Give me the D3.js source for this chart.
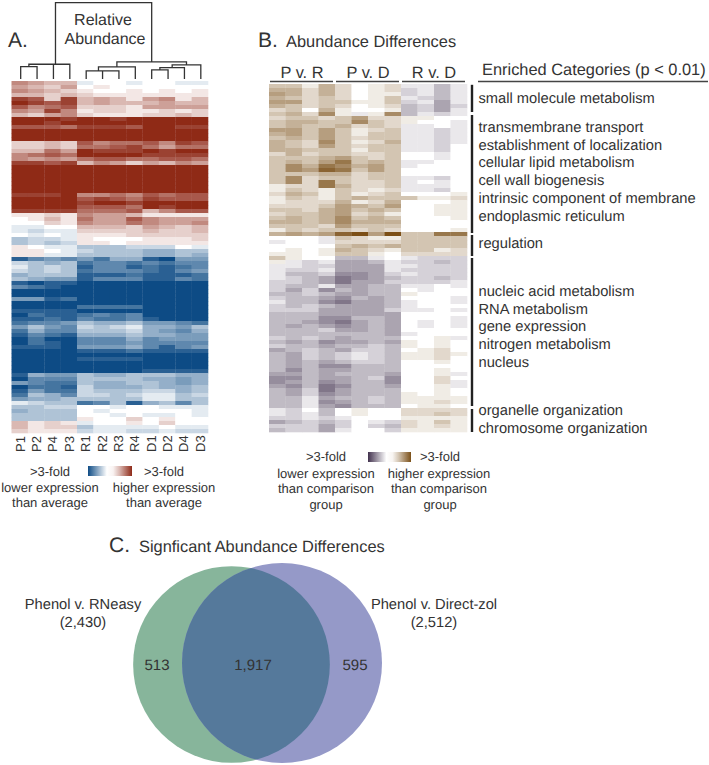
<!DOCTYPE html>
<html>
<head>
<meta charset="utf-8">
<title>Abundance heatmaps</title>
<script src="https://cdn.jsdelivr.net/npm/d3@7/dist/d3.min.js"></script>
<style>
  html, body { margin: 0; padding: 0; background: #fff; }
  svg { display: block; }
  text { font-family: "Liberation Sans", Arial, sans-serif; fill: #333; text-rendering: geometricPrecision; }
</style>
</head>
<body>
<svg id="chart" width="709" height="765"></svg>
<script>
// Panel A columns, in dendrogram order
const samples = ["P1","P2","P4","P3","R1","R2","R3","R4","D1","D2","D4","D3"];

// Panel A dendrogram: merge height of each node, leaves are sample names
const sampleTree = { h: 76, children: [
  { h: 14.7, children: [
    { h: 14.7, children: [ { h: 12.3, children: [{ name: "P1" }, { name: "P2" }] }, { name: "P4" } ] },
    { name: "P3" } ] },
  { h: 17, children: [
    { h: 12, children: [
      { h: 8, children: [{ name: "R1" }, { h: 8, children: [{ name: "R2" }, { name: "R3" }] }] },
      { name: "R4" } ] },
    { h: 14, children: [
      { h: 11.3, children: [ { h: 9, children: [{ name: "D1" }, { name: "D2" }] }, { name: "D4" } ] },
      { name: "D3" } ] } ] }
] };

// Panel A relative abundance, -9 = >3-fold lower, 9 = >3-fold higher
const abundance = [
  [5,4,3,3,-1,0,0,-1,0,0,-1,-1],
  [4,3,2,4,0,1,0,0,0,0,0,0],
  [5,4,3,2,1,0,0,1,0,1,0,1],
  [3,3,2,3,2,1,1,1,1,1,1,1],
  [8,7,2,8,3,4,3,1,4,5,1,3],
  [9,8,7,8,3,4,3,3,3,4,3,3],
  [7,5,6,7,2,2,2,1,4,4,4,4],
  [5,4,8,5,1,2,2,1,1,2,1,2],
  [3,2,4,5,2,1,1,1,2,2,3,2],
  [9,9,9,8,9,9,8,9,9,9,9,9],
  [9,9,8,9,9,9,9,9,9,9,9,9],
  [7,7,7,6,8,8,8,7,9,9,8,8],
  [9,9,9,9,9,9,9,9,9,9,9,9],
  [9,9,9,9,9,9,9,9,9,9,9,9],
  [9,9,9,9,9,9,9,9,9,9,9,9],
  [2,2,3,2,7,5,6,6,7,5,8,7],
  [2,2,3,2,6,6,7,8,6,4,6,6],
  [3,3,6,4,9,8,8,8,9,8,9,9],
  [5,6,7,6,9,9,9,9,8,8,8,8],
  [5,4,5,4,6,7,7,6,6,7,7,6],
  [8,8,7,8,3,5,4,2,4,3,5,4],
  [9,9,9,9,9,9,9,9,9,9,9,9],
  [9,9,9,9,9,9,9,9,9,9,9,9],
  [9,9,9,9,9,9,9,9,9,9,9,9],
  [9,9,9,9,9,9,9,9,9,9,9,9],
  [9,9,9,9,9,9,9,9,9,9,9,9],
  [9,9,9,9,9,9,9,9,9,9,9,9],
  [9,9,9,9,9,9,9,9,9,9,9,9],
  [8,8,8,9,5,5,6,5,7,6,7,7],
  [9,9,9,9,7,8,7,6,8,7,7,7],
  [9,9,9,9,8,9,9,8,9,9,9,9],
  [9,9,9,9,7,7,7,6,9,8,9,9],
  [8,8,8,8,6,6,6,7,3,5,7,7],
  [1,1,2,1,5,4,4,3,1,1,1,1],
  [0,1,3,1,6,4,4,7,5,4,4,4],
  [0,0,2,1,5,4,4,6,5,4,4,5],
  [-1,-1,0,0,3,3,3,2,4,3,2,3],
  [-1,-2,-1,-1,2,2,2,2,3,2,2,3],
  [0,-1,0,-1,1,1,1,2,2,2,2,2],
  [-3,-2,-2,-1,1,0,0,0,1,1,1,2],
  [-3,-2,-3,-2,1,1,0,1,1,1,1,1],
  [1,0,-1,-1,-3,-3,-3,-2,-2,-2,0,-1],
  [1,1,0,-1,-2,-3,-3,-3,-4,-4,-3,-3],
  [1,1,-1,-1,-3,-3,-3,-3,-4,-4,-3,-4],
  [-8,-6,-5,-6,-5,-7,-4,-4,-8,-9,-5,-5],
  [-2,-3,-4,-3,-7,-6,-6,-7,-6,-7,-6,-6],
  [-1,-3,-2,-3,-8,-6,-6,-8,-7,-8,-7,-6],
  [-2,-3,-2,-3,-7,-6,-6,-6,-7,-8,-6,-5],
  [-4,-3,-3,-3,-8,-8,-8,-7,-8,-8,-8,-7],
  [-3,-4,-5,-5,-8,-6,-6,-6,-8,-8,-6,-7],
  [-8,-9,-8,-8,-9,-9,-9,-9,-9,-9,-9,-9],
  [-6,-7,-8,-9,-9,-9,-9,-9,-9,-9,-9,-9],
  [-9,-9,-9,-9,-9,-9,-9,-9,-9,-9,-9,-9],
  [-9,-9,-9,-9,-9,-9,-9,-9,-9,-9,-9,-9],
  [-5,-5,-8,-7,-9,-9,-9,-9,-9,-9,-9,-9],
  [-9,-9,-9,-9,-9,-9,-9,-9,-9,-9,-9,-9],
  [-9,-9,-9,-9,-7,-7,-7,-7,-9,-9,-9,-9],
  [-8,-8,-8,-8,-9,-9,-9,-9,-9,-9,-9,-9],
  [-9,-7,-8,-8,-7,-6,-7,-6,-9,-9,-9,-9],
  [-8,-8,-7,-8,-6,-7,-7,-6,-8,-9,-9,-9],
  [-7,-6,-6,-5,-3,-4,-4,-3,-5,-5,-6,-7],
  [-5,-3,-5,-6,-2,-3,-2,-1,-4,-4,-5,-3],
  [-7,-4,-6,-6,-3,-3,-3,-2,-4,-5,-6,-4],
  [-8,-6,-7,-8,-4,-4,-4,-3,-4,-4,-5,-5],
  [-9,-7,-9,-9,-6,-6,-6,-4,-6,-5,-5,-5],
  [-9,-7,-8,-9,-6,-6,-6,-5,-6,-6,-6,-6],
  [-8,-8,-8,-9,-5,-5,-5,-4,-6,-8,-6,-5],
  [-9,-9,-9,-9,-8,-8,-8,-7,-8,-8,-8,-8],
  [-9,-9,-9,-9,-9,-9,-9,-9,-9,-9,-9,-9],
  [-9,-9,-9,-9,-8,-8,-8,-8,-9,-9,-9,-9],
  [-9,-9,-9,-9,-9,-9,-9,-9,-9,-9,-9,-9],
  [-9,-9,-9,-9,-9,-9,-9,-9,-9,-9,-9,-9],
  [-9,-9,-9,-9,-9,-9,-9,-9,-8,-8,-8,-8],
  [-8,-4,-5,-5,-3,-4,-4,-3,-3,-3,-4,-4],
  [-9,-6,-6,-6,-3,-3,-3,-3,-4,-4,-5,-4],
  [-5,-6,-7,-7,-3,-4,-4,-3,-3,-4,-5,-4],
  [-9,-7,-7,-8,-2,-4,-4,-4,-3,-4,-4,-3],
  [-8,-5,-7,-7,-2,-3,-3,-3,-2,-2,-4,-3],
  [-7,-3,-4,-6,-2,-2,-3,-2,-1,-1,-3,-2],
  [-5,-4,-4,-3,-3,-3,-3,-3,-1,-1,-3,-3],
  [-1,-2,-3,-3,-7,-6,-3,-8,-4,-3,-6,-3],
  [-3,-3,-2,-2,0,0,-1,0,0,-1,-1,-1],
  [-4,-3,-3,-3,0,-1,0,0,0,0,0,-1],
  [-3,-3,-3,-3,0,0,-1,0,-1,-1,0,-1],
  [-3,-3,-3,-3,1,0,0,2,0,1,0,0],
  [3,1,2,1,-1,0,0,1,0,2,0,0],
  [3,1,2,2,-3,-1,-1,-1,-1,0,-1,-1],
  [2,1,1,1,-2,-1,-1,-2,-2,-1,-2,-2]
];

// Panel B comparison groups, four replicate columns each
const comparisons = ["P v. R","P v. D","R v. D"];

// Panel B abundance differences, -9 = >3-fold lower, 9 = >3-fold higher
const differences = [
  [3,3,1,4,2,0,1,2,-1,-1,-3,-1],
  [4,4,2,4,2,0,1,2,-2,-1,-3,-1],
  [5,4,2,4,2,0,1,1,-2,-1,-3,-1],
  [4,3,2,3,2,0,1,3,-1,-2,-3,-1],
  [5,5,2,3,3,1,1,3,-2,-1,-4,-1],
  [4,3,2,3,2,0,1,2,-3,-2,-4,-2],
  [2,3,0,4,1,0,0,1,-3,-2,-4,-1],
  [3,4,2,6,1,-1,1,6,-3,-1,-2,-1],
  [2,3,3,2,3,5,2,2,1,1,0,0],
  [3,4,4,3,3,6,3,2,1,0,0,-1],
  [3,4,3,3,4,2,3,2,-1,-1,0,-1],
  [5,5,3,5,3,1,2,3,-1,-1,-2,-1],
  [4,5,3,5,3,1,3,3,-1,-1,-2,-1],
  [3,4,3,5,3,2,3,3,-1,-1,-2,-1],
  [4,3,2,6,3,1,2,4,-1,-1,-2,-1],
  [4,3,2,5,3,2,3,3,-1,-1,-2,0],
  [4,4,3,3,3,1,3,3,-1,-1,-2,0],
  [2,4,2,3,3,2,2,3,0,0,-1,0],
  [3,3,3,4,5,3,2,3,0,0,-1,0],
  [3,4,3,5,7,3,4,3,-1,-1,0,0],
  [3,6,4,7,6,4,5,3,-1,0,0,0],
  [3,6,5,8,7,3,5,3,0,0,0,0],
  [3,3,3,4,4,2,3,3,0,0,0,0],
  [3,6,2,3,3,2,3,3,-1,-1,-2,0],
  [3,6,2,7,3,2,2,3,-1,0,-1,0],
  [1,2,2,7,4,2,2,3,-1,-1,-1,0],
  [1,3,2,1,3,2,1,2,-1,-1,-2,0],
  [2,4,3,1,3,1,2,3,0,0,0,1],
  [1,3,2,1,3,4,3,3,3,1,1,2],
  [1,2,2,2,4,1,2,4,0,0,0,1],
  [2,2,2,3,5,4,3,5,0,0,1,1],
  [3,3,2,4,5,3,4,3,0,0,1,1],
  [2,3,3,4,5,2,3,1,0,0,1,1],
  [3,4,3,4,6,3,4,3,0,0,0,1],
  [4,4,3,4,6,4,4,4,0,0,0,0],
  [3,3,3,2,5,3,3,3,0,0,0,0],
  [1,3,2,3,3,2,3,2,0,0,0,1],
  [4,5,4,5,8,9,5,9,3,3,7,7],
  [0,0,0,-1,3,2,1,1,3,3,3,3],
  [-1,0,0,-1,2,2,2,2,3,3,3,3],
  [0,0,0,0,3,4,3,4,3,3,3,3],
  [0,1,0,1,4,3,2,1,3,3,1,2],
  [1,1,0,1,3,3,1,0,2,2,2,2],
  [3,1,0,0,-3,-3,-1,0,-1,-2,-2,-2],
  [1,-1,-2,-1,-4,-4,-3,-1,-2,-2,-3,-2],
  [-1,-1,-2,-2,-4,-4,-4,-1,-1,-2,-2,-2],
  [-1,-2,-2,-1,-4,-4,-4,-1,-2,-2,-2,-2],
  [-1,-3,-3,-2,-5,-5,-4,-2,-1,-2,-2,-2],
  [-1,-2,-3,-4,-6,-5,-4,-3,-2,-2,-3,-2],
  [-2,-2,-3,-4,-6,-4,-4,-2,-2,-2,-2,-1],
  [-2,-3,-3,-1,-4,-4,-3,-3,-1,-1,0,-1],
  [-2,-4,-2,-5,-3,-4,-3,-3,0,-1,0,0],
  [-3,-3,-2,-3,-4,-4,-3,-3,1,0,0,0],
  [-2,-3,-3,-4,-5,-3,-4,-3,0,0,0,-1],
  [-1,-3,-3,-5,-6,-4,-4,-3,-1,0,0,-1],
  [-2,-3,-2,-3,-4,-4,-4,-3,-1,0,0,0],
  [-2,-2,-2,-4,-4,-4,-4,-2,-1,-1,0,-1],
  [-3,-3,-3,-4,-4,-4,-4,-4,0,0,0,0],
  [-3,-3,-3,-5,-5,-3,-3,-4,0,0,0,-1],
  [-3,-3,-4,-5,-6,-4,-3,-4,0,-1,0,-1],
  [-3,-4,-3,-4,-5,-4,-3,-4,0,-1,0,-1],
  [-3,-3,-3,-2,-4,-4,-3,-4,0,0,0,0],
  [-3,-3,-3,-3,-3,-3,-3,-4,-1,0,0,0],
  [-2,-3,-2,-3,-4,-3,-3,-3,0,0,1,-1],
  [-3,-4,-3,-5,-4,-4,-3,-4,1,0,1,0],
  [-2,-3,-3,-4,-3,-3,-2,-3,1,0,1,0],
  [-4,-3,-2,-3,-4,-2,-2,-3,0,1,2,0],
  [-3,-4,-2,-3,-2,-1,-2,-3,1,1,2,1],
  [-3,-4,-2,-3,-2,-1,-2,-3,1,1,2,0],
  [-3,-4,-3,-4,-3,-2,-2,-3,0,0,1,0],
  [-3,-4,-3,-5,-5,-3,-3,-3,0,0,0,0],
  [-3,-5,-3,-4,-4,-3,-3,-3,0,0,1,0],
  [-4,-4,-3,-4,-3,-3,-3,-4,0,0,1,-1],
  [-5,-5,-3,-4,-4,-3,-2,-5,0,0,2,0],
  [-5,-4,-3,-5,-4,-3,-3,-5,0,0,2,-1],
  [-4,-5,-3,-6,-5,-3,-3,-4,0,0,1,-1],
  [-3,-4,-2,-6,-4,-3,-3,-3,0,0,1,0],
  [-3,-4,-2,-5,-4,-3,-3,-3,1,0,1,0],
  [-3,-3,-1,-4,-3,-3,-2,-3,1,1,1,1],
  [-3,-3,-1,-5,-4,-3,-2,-3,1,1,2,1],
  [-3,-3,-1,-4,-5,-3,-3,-3,0,1,1,0],
  [-1,-2,0,-3,0,1,0,0,2,2,2,2],
  [-1,-2,-1,-3,0,1,0,0,2,2,3,2],
  [-2,-2,-1,-2,-1,0,0,0,1,1,1,1],
  [-4,-3,-2,-3,-2,0,-1,-2,2,1,3,1],
  [-2,-2,-2,-4,-2,0,-2,-3,2,1,2,1],
  [-3,-2,-2,-4,-1,0,0,-2,1,1,1,1]
];

// Panel B enriched categories with the rows each bracket spans
const enrichedGroups = [
  { rows: [0.2, 7], labels: ["small molecule metabolism"], first: 103 },
  { rows: [7.75, 37.25], labels: ["transmembrane transport","establishment of localization","cellular lipid metabolism","cell wall biogenesis","intrinsic component of membrane","endoplasmic reticulum"], first: 132 },
  { rows: [37.75, 43], labels: ["regulation"], first: 248 },
  { rows: [43.5, 80.5], labels: ["nucleic acid metabolism","RNA metabolism","gene expression","nitrogen metabolism","nucleus"], first: 296 },
  { rows: [81.25, 87], labels: ["organelle organization","chromosome organization"], first: 415 }
];

// Panel C set sizes
const phenolRneasy = 2430;
const phenolDirectzol = 2512;
const onlyRneasy = 513;
const shared = 1917;
const onlyDirectzol = 595;

const svg = d3.select("#chart");
const fmt = d3.format(",");

const redBlue = d3.scaleLinear().domain([-9, 0, 9]).range(["#0f4c85", "#ffffff", "#8f2a18"]);
const brownPurple = d3.scaleLinear().domain([-9, 0, 9]).range(["#42324e", "#ffffff", "#7b5018"]);

// Small helper for plain text
function label(x, y, str, size, anchor) {
  return svg.append("text")
    .attr("x", x).attr("y", y)
    .attr("font-size", size)
    .attr("text-anchor", anchor || "start")
    .text(str);
}

// Draw one heatmap from a row table
function heatmap(table, x, y, color) {
  const g = svg.append("g").attr("filter", "url(#soft)");
  const rows = g.selectAll("g").data(table).enter().append("g")
    .attr("transform", (d, i) => `translate(0,${y(i)})`);
  rows.selectAll("rect").data(d => d).enter().append("rect")
    .attr("x", (d, i) => x(i))
    .attr("width", x.bandwidth() + 0.3)
    .attr("height", y.bandwidth() + 0.3)
    .attr("fill", d => color(d));
}

// Horizontal legend ramp
function ramp(id, x, y, w, h, color) {
  const grad = svg.select("defs").append("linearGradient").attr("id", id);
  grad.selectAll("stop").data([-9, -6, -3, 0, 0.5, 3, 6, 9]).enter().append("stop")
    .attr("offset", (d, i, n) => (i / (n.length - 1) * 100) + "%")
    .attr("stop-color", d => color(d));
  svg.append("rect").attr("x", x).attr("y", y).attr("width", w).attr("height", h)
    .attr("fill", `url(#${id})`);
}

const defs = svg.append("defs");
defs.append("filter").attr("id", "soft")
  .attr("x", "-2%").attr("y", "-2%").attr("width", "104%").attr("height", "104%")
  .append("feGaussianBlur").attr("stdDeviation", 0.6);

// ---- Panel A ----
const xA = d3.scaleBand().domain(d3.range(samples.length)).range([11.5, 208]);
const yA = d3.scaleBand().domain(d3.range(abundance.length)).range([81, 433]);
heatmap(abundance, xA, yA, redBlue);

label(8, 47, "A.", 21);
label(103, 25, "Relative", 16, "middle");
label(105, 44, "Abundance", 16, "middle");

// Dendrogram from merge heights
const treeY = d3.scaleLinear().domain([0, 76]).range([79, 2.7]);
const root = d3.hierarchy(sampleTree);
root.eachAfter(n => {
  n.px = n.children ? d3.mean(n.children, c => c.px) : xA(samples.indexOf(n.data.name)) + xA.bandwidth() / 2 + 1;
  n.py = treeY(n.data.h || 0);
});
svg.append("path")
  .attr("fill", "none").attr("stroke", "#333").attr("stroke-width", 1.3)
  .attr("d", root.descendants().filter(n => n.children).map(n => {
    const [a, b] = n.children;
    return `M${a.px},${a.py}V${n.py}H${b.px}V${b.py}`;
  }).join(""));

// Column labels
samples.forEach((s, i) => {
  const cx = xA(i) + xA.bandwidth() / 2 + 5;
  svg.append("text").attr("transform", `translate(${cx},452) rotate(-90)`)
    .attr("font-size", 13).text(s);
});

// Legend A
ramp("rampA", 88, 466, 44, 10, redBlue);
label(50, 476, ">3-fold", 13, "middle");
label(50, 492, "lower expression", 13, "middle");
label(50, 507, "than average", 13, "middle");
label(164, 476, ">3-fold", 13, "middle");
label(164, 492, "higher expression", 13, "middle");
label(164, 507, "than average", 13, "middle");

// ---- Panel B ----
const xB = d3.scaleBand().domain(d3.range(12)).range([269, 467]);
const yB = d3.scaleBand().domain(d3.range(differences.length)).range([84, 432]);
heatmap(differences, xB, yB, brownPurple);

label(258, 47, "B.", 21);
label(286, 47, "Abundance Differences", 16.4);

comparisons.forEach((c, i) => {
  const x0 = xB(i * 4), x1 = xB(i * 4 + 3) + xB.bandwidth();
  label((x0 + x1) / 2, 78, c, 16.4, "middle");
  svg.append("line").attr("x1", x0 + 1).attr("x2", x1 - 2).attr("y1", 81.5).attr("y2", 81.5)
    .attr("stroke", "#444").attr("stroke-width", 1.3);
});

label(482, 75, "Enriched Categories (p < 0.01)", 16.4);
svg.append("line").attr("x1", 478).attr("x2", 708).attr("y1", 81.5).attr("y2", 81.5)
  .attr("stroke", "#444").attr("stroke-width", 1.3);

enrichedGroups.forEach(g => {
  svg.append("line").attr("x1", 472).attr("x2", 472)
    .attr("y1", 84 + g.rows[0] * yB.step()).attr("y2", 84 + g.rows[1] * yB.step())
    .attr("stroke", "#222").attr("stroke-width", 2.4);
  g.labels.forEach((t, i) => label(478.5, g.first + i * 17.7, t, 14.7));
});

// Legend B
ramp("rampB", 368, 452, 43, 10, brownPurple);
label(326, 461, ">3-fold", 13, "middle");
label(326, 478, "lower expression", 13, "middle");
label(326, 493, "than comparison", 13, "middle");
label(326, 509, "group", 13, "middle");
label(440, 461, ">3-fold", 13, "middle");
label(439, 478, "higher expression", 13, "middle");
label(439, 493, "than comparison", 13, "middle");
label(440, 509, "group", 13, "middle");

// ---- Panel C ----
label(109, 552, "C.", 21);
label(139, 552, "Signficant Abundance Differences", 16.4);

const r = d3.scaleSqrt().domain([0, phenolDirectzol]).range([0, 100]);
const venn = [
  { size: phenolRneasy, cx: 231.5, cy: 664.5, fill: "#87b59b" },
  { size: phenolDirectzol, cx: 282, cy: 663, fill: "#9599c8" }
];
svg.selectAll("circle.set").data(venn).enter().append("circle")
  .attr("class", "set")
  .attr("cx", d => d.cx).attr("cy", d => d.cy)
  .attr("r", d => r(d.size))
  .attr("fill", d => d.fill);

defs.append("clipPath").attr("id", "overlapClip").append("circle")
  .attr("cx", venn[0].cx).attr("cy", venn[0].cy).attr("r", r(venn[0].size));
svg.append("circle")
  .attr("clip-path", "url(#overlapClip)")
  .attr("cx", venn[1].cx).attr("cy", venn[1].cy).attr("r", r(venn[1].size))
  .attr("fill", "#55799b");

label(83, 609, "Phenol v. RNeasy", 14.7, "middle");
label(83, 627, `(${fmt(phenolRneasy)})`, 14.7, "middle");
label(434, 609, "Phenol v. Direct-zol", 14.7, "middle");
label(434, 627, `(${fmt(phenolDirectzol)})`, 14.7, "middle");
label(157, 670, fmt(onlyRneasy), 15, "middle");
label(253, 670, fmt(shared), 15, "middle");
label(355, 670, fmt(onlyDirectzol), 15, "middle");
</script>
</body>
</html>
